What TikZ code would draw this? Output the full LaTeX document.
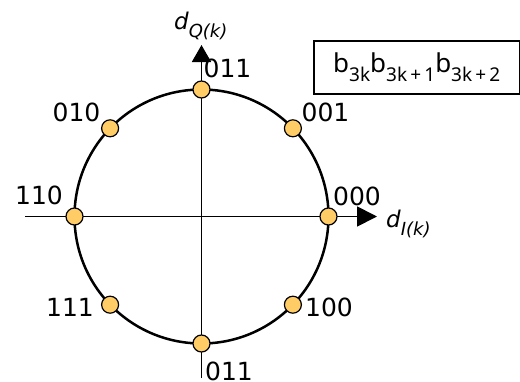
\documentclass[tikz,border=0pt]{standalone}
\usepackage{fontspec}
\setmainfont{DejaVu Sans}
\newfontfamily\boxfont{Noto Sans}
\usetikzlibrary{arrows.meta}
\definecolor{dotfill}{RGB}{255,204,102}
\newcommand{\bsub}[1]{\raisebox{-9pt}{\fontsize{19}{19}\selectfont #1}}
\newcommand{\dsub}[1]{\raisebox{-8pt}{\fontsize{18}{18}\selectfont\itshape #1}}
\begin{document}
\begin{tikzpicture}[x=1pt,y=-1pt,
  axisline/.style={line width=1.8pt},
  ring/.style={line width=2.5pt},
  dot/.style={circle,draw=black,line width=1.2pt,fill=dotfill,minimum size=17pt,inner sep=0pt},
  lab/.style={inner sep=0pt,font=\fontsize{25}{25}\selectfont},
  dlab/.style={inner sep=0pt,anchor=base west,font=\fontsize{23}{23}\selectfont}]
\useasboundingbox (0,0) rectangle (520,381);
\coordinate (O) at (201.5,216.5);
\coordinate (xs) at (25,216.5);
\coordinate (xe) at (377,216.5);
\coordinate (ys) at (201.5,378);
\coordinate (ye) at (201.5,45);
\draw[axisline,-{Triangle[length=20pt,width=20pt]}] (xs) -- (xe);
\draw[axisline,-{Triangle[length=17pt,width=19pt]}] (ys) -- (ye);
\draw[ring] (O) circle[radius=127];
% constellation points
\node[dot] (p000) at (328.5,216.5) {};
\node[dot] (p001) at (292.9,128.3) {};
\node[dot] (p011) at (201.5,89.5) {};
\node[dot] (p010) at (110.1,128.3) {};
\node[dot] (p110) at (74.5,216.5) {};
\node[dot] (p111) at (110.1,304.7) {};
\node[dot] (p011b) at (201.5,343.5) {};
\node[dot] (p100) at (292.9,304.7) {};
% labels
\node[lab] (l011) at (227.5,68) {011};
\node[lab] (l010) at (76.5,112) {010};
\node[lab] (l001) at (325.5,112) {001};
\node[lab] (l110) at (39,195.5) {110};
\node[lab] (l000) at (357,196) {000};
\node[lab] (l111) at (70,307.5) {111};
\node[lab] (l100) at (329,307.5) {100};
\node[lab] (l011b) at (229,371) {011};
% axis labels
\node[dlab] (dQ) at (174,29) {\itshape d\dsub{Q(k)}};
\node[dlab] (dI) at (386,227) {\itshape d\dsub{I(k)}};
% bit box
\node[draw,line width=1.5pt,minimum width=206pt,minimum height=53pt,inner sep=0pt,anchor=north west,
  font=\boxfont\fontsize{26}{26}\selectfont] (bits) at (313,40)
  {b\bsub{3k}b\bsub{3k\,+\,1}b\bsub{3k\,+\,2}};
\end{tikzpicture}
\end{document}
